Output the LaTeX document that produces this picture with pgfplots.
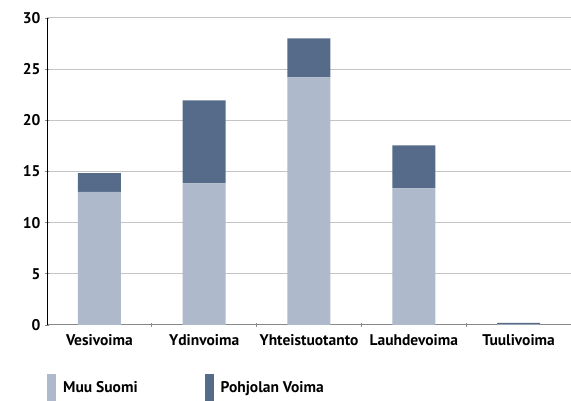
\documentclass[border=0pt]{standalone}
\usepackage{fontspec}
\setmainfont{PT Sans}
\usepackage{pgfplots}
\pgfplotsset{compat=1.18}
\usetikzlibrary{calc}
\definecolor{muu}{HTML}{AEB9CB}
\definecolor{pvo}{HTML}{556B89}
\definecolor{gridgray}{HTML}{C4C4C4}

\begin{document}
\begin{tikzpicture}
\begin{axis}[
  name=ax,
  scale only axis, width=524pt, height=307pt,
  font=\fontsize{15.5}{18}\selectfont\bfseries,
  ybar stacked, bar width=43pt,
  xmin=-0.5, xmax=4.5, ymin=0, ymax=30,
  xtick={0,1,2,3,4},
  xticklabels={Vesivoima,Ydinvoima,Yhteistuotanto,Lauhdevoima,Tuulivoima},
  minor xtick={0.5,1.5,2.5,3.5},
  major x tick style={draw=none},
  minor x tick style={gridgray!70!black, line width=0.8pt},
  minor tick length=4pt,
  xtick align=outside,
  ytick={0,5,...,30},
  ytick align=outside, major tick length=4pt,
  y tick style={gridgray!70!black, line width=0.8pt},
  axis x line=bottom, axis y line=left,
  x axis line style={-, gridgray!70!black, line width=1pt},
  y axis line style={-, black, line width=0.8pt},
  ymajorgrids, grid style={gridgray, line width=1pt},
  xticklabel style={yshift=-4pt},
  yticklabel style={xshift=-1pt},
  /pgf/number format/assume math mode=true,
  legend style={at={(0,0)}, anchor=north west, yshift=-49pt, draw=none, fill=none,
    legend columns=2, inner sep=0pt, column sep=0pt,
    font=\fontsize{15.5}{18}\selectfont\bfseries,
    /tikz/every odd column/.append style={column sep=5pt},
    /tikz/every even column/.append style={column sep=65pt}},
  legend cell align=left,
]
\addplot[fill=muu, draw=none,
  legend image code/.code={\fill[muu] (0pt,-13.5pt) rectangle (9pt,13.5pt);}]
  coordinates {(0,13.0) (1,13.85) (2,24.2) (3,13.35) (4,0.05)};
\addlegendentry{Muu Suomi}
\addplot[fill=pvo, draw=none,
  legend image code/.code={\fill[pvo] (0pt,-13.5pt) rectangle (9pt,13.5pt);}]
  coordinates {(0,1.85) (1,8.1) (2,3.8) (3,4.2) (4,0.15)};
\addlegendentry{Pohjolan Voima}
\end{axis}
\pgfresetboundingbox
\path ($(ax.south west)+(-47pt,-76pt)$) rectangle +(571pt,401pt);
\end{tikzpicture}
\end{document}
